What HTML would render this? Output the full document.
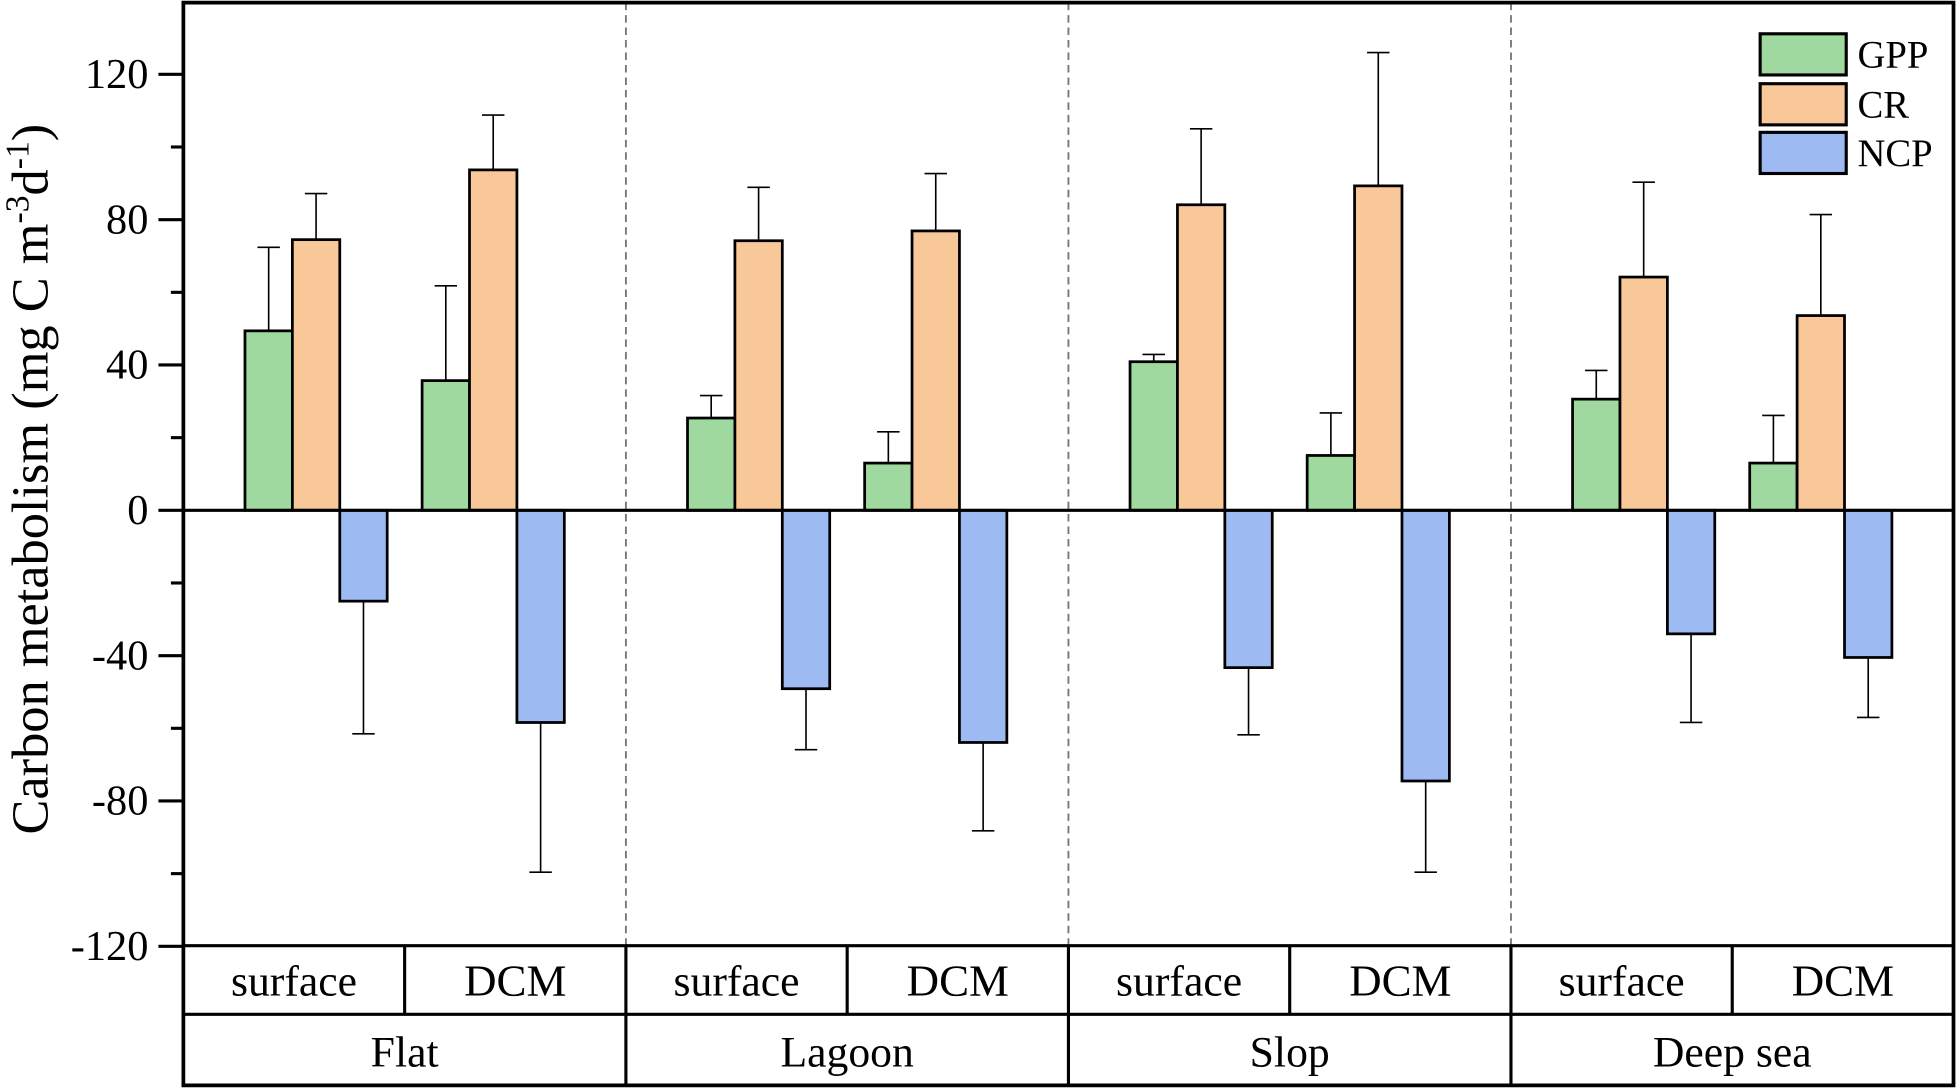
<!DOCTYPE html>
<html><head><meta charset="utf-8"><style>
html,body{margin:0;padding:0;background:#fff;}
svg{display:block;font-family:"Liberation Serif",serif;}
</style></head><body>
<svg id="chart" width="1956" height="1088" viewBox="0 0 1568 872" xmlns="http://www.w3.org/2000/svg">
<g id="marks"></g>
</svg>
<script>
const sites = ["Flat","Lagoon","Slop","Deep sea"];
const depths = ["surface","DCM"];
const seriesNames = ["GPP","CR","NCP"];
const gppVals = [49.4,35.7,25.4,13,40.9,15.1,30.6,13];
const gppErr  = [23,26.1,6.2,8.6,2,11.7,7.9,13.1];
const crVals  = [74.5,93.7,74.2,76.9,84.1,89.3,64.2,53.6];
const crErr   = [12.7,15.1,14.7,15.8,20.9,36.7,26.1,27.8];
const ncpVals = [-25,-58.4,-49.1,-63.9,-43.3,-74.5,-34,-40.5];
const ncpErr  = [36.5,41.2,16.8,24.3,18.5,25.1,24.4,16.5];
const yTicks = [-120,-80,-40,0,40,80,120];
const colors = ["#9fd99f","#f9c899","#9dbaf2"];

const svg = document.getElementById('chart');
const NS = "http://www.w3.org/2000/svg";
const L=147, R=1566, T=2, B=758;
function y(v){ return 409 - v*(349.5/120); }
const panelW=(R-L)/4, subW=panelW/2, barW=38;
function mk(tag, attrs, parent){ const e=document.createElementNS(NS,tag); for(const k in attrs) e.setAttribute(k,attrs[k]); (parent||svg).appendChild(e); return e; }

for(let i=1;i<4;i++){
  const d=mk('line',{x1:L+i*panelW,x2:L+i*panelW,y1:T,y2:B,stroke:'#777','stroke-width':1.5,'stroke-dasharray':'6,4'});
  
  
}
const allVals=[gppVals,crVals,ncpVals], allErr=[gppErr,crErr,ncpErr];
for(let g=0; g<8; g++){
  const pc=L+panelW*Math.floor(g/2)+panelW/2;
  const cx=pc+(g%2===0?-71:71);
  for(let s=0;s<3;s++){
    const v=allVals[s][g], e=allErr[s][g];
    const bx=cx+(s-1)*barW;
    const ye=v>=0?y(v+e):y(v-e);
    const eb=mk('line',{x1:bx,x2:bx,y1:y(v),y2:ye,stroke:'#000','stroke-width':1.3});
    
    
    const cap=mk('line',{x1:bx-9,x2:bx+9,y1:ye,y2:ye,stroke:'#000','stroke-width':1.3});
    
    
    const top=Math.min(y(v),y(0)), h=Math.abs(y(v)-y(0));
    const r=mk('rect',{x:bx-barW/2,y:top,width:barW,height:h,fill:colors[s],stroke:'#000','stroke-width':2.2});
    
    
  }
}
const z=mk('line',{x1:L,x2:R,y1:y(0),y2:y(0),stroke:'#000','stroke-width':2.5});


const fr=mk('path',{d:`M${L} ${T}H${R}V870H${L}Z`,fill:'none',stroke:'#000','stroke-width':3});


const tl=mk('path',{d:`M${L} ${B}H${R}M${L} 813H${R}`,fill:'none',stroke:'#000','stroke-width':2.5});


for(let i=1;i<8;i++){
  const x=L+i*subW;
  const vl=mk('line',{x1:x,x2:x,y1:B,y2:(i%2==0?870:813),stroke:'#000','stroke-width':2.5});
  
  
}
for(let g=0;g<8;g++){
  const t=mk('text',{x:L+subW*g+subW/2,y:798,'text-anchor':'middle','font-size':g%2?36:35});
  t.textContent=depths[g%2];
  
  
}
for(let i=0;i<4;i++){
  const t=mk('text',{x:L+panelW*i+panelW/2,y:855,'text-anchor':'middle','font-size':35});
  t.textContent=sites[i];
  
  
}
for(let v=-120; v<=120; v+=20){
  const major=v%40===0;
  const tk=mk('line',{x1:major?127:137,x2:L,y1:y(v),y2:y(v),stroke:'#000','stroke-width':2.5});
  
  
}
yTicks.forEach(v=>{
  const t=mk('text',{x:119,y:y(v)+11,'text-anchor':'end','font-size':34});
  t.textContent=v;
  
  
});
const yt=mk('text',{x:0,y:0,transform:'translate(38,384) rotate(-90)','text-anchor':'middle','font-size':42});
yt.innerHTML='Carbon metabolism (mg C m<tspan dy="-15" font-size="27">-3</tspan><tspan dy="15">d</tspan><tspan dy="-15" font-size="27">-1</tspan><tspan dy="15">)</tspan>';


const ly=[27,67,106];
for(let s=0;s<3;s++){
  const r=mk('rect',{x:1411,y:ly[s],width:69,height:33,fill:colors[s],stroke:'#000','stroke-width':2.5});
  
  
  const t=mk('text',{x:1489,y:ly[s]+27,'font-size':31});
  t.textContent=seriesNames[s];
  
  
}
</script>
</body></html>
